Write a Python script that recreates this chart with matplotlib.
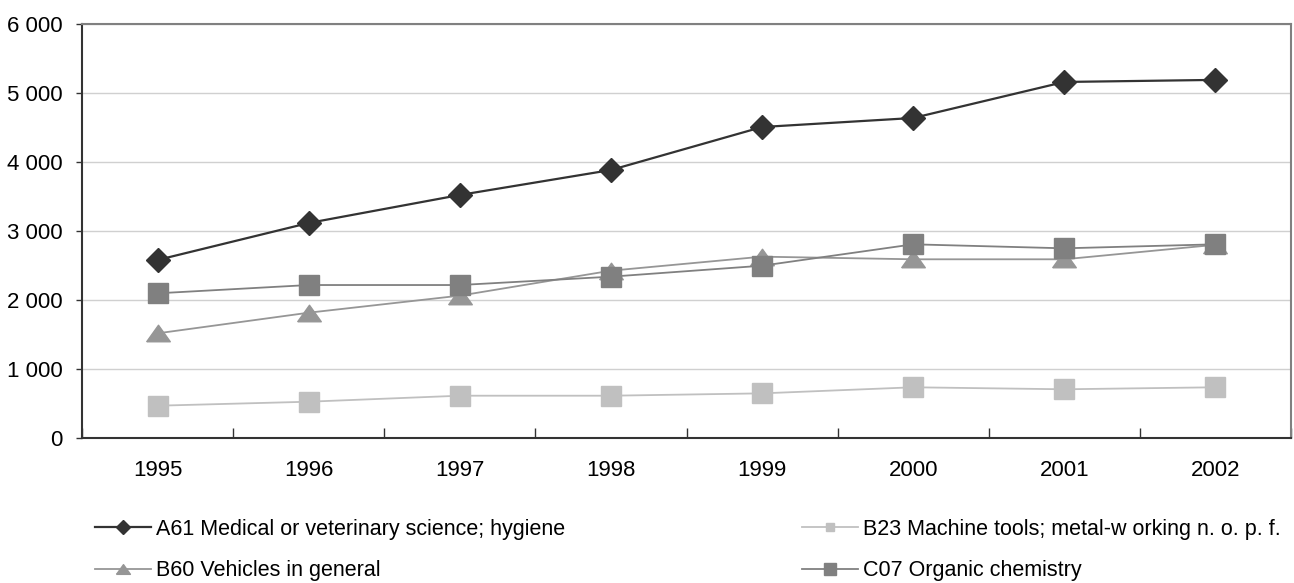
import matplotlib.pyplot as plt
from matplotlib.ticker import FuncFormatter, FixedLocator

plt.rcParams['font.family'] = ['Liberation Sans', 'DejaVu Sans']

years = ["1995", "1996", "1997", "1998", "1999", "2000", "2001", "2002"]

a61 = [2580, 3116, 3522, 3884, 4507, 4638, 5160, 5190]
b23 = [468, 526, 613, 613, 647, 735, 706, 735]
b60 = [1517, 1816, 2063, 2425, 2628, 2590, 2590, 2800]
c07 = [2097, 2217, 2217, 2338, 2497, 2807, 2749, 2807]

labels = {
    "a61": "A61 Medical or veterinary science; hygiene",
    "b23": "B23 Machine tools; metal-w orking n. o. p. f.",
    "b60": "B60 Vehicles in general",
    "c07": "C07 Organic chemistry",
}

# flat triangle like the spreadsheet marker
tri = [(-1, -0.7), (1, -0.7), (0, 0.7), (-1, -0.7)]

fig = plt.figure(figsize=(12.94, 5.83), dpi=100)
ax = fig.add_axes([82 / 1294, 1 - 438 / 583, (1291 - 82) / 1294, (438 - 24) / 583])

x = list(range(len(years)))
l_a61, = ax.plot(x, a61, color="#333333", lw=1.6, marker="D", ms=12, zorder=5)
l_b23, = ax.plot(x, b23, color="#C0C0C0", lw=1.3, marker="s", ms=14, zorder=3)
l_b60, = ax.plot(x, b60, color="#969696", lw=1.3, marker=tri, ms=17, zorder=3)
l_c07, = ax.plot(x, c07, color="#808080", lw=1.3, marker="s", ms=14, zorder=4)

ax.set_xlim(-0.5, len(years) - 0.5)
ax.set_ylim(0, 6000)

# category ticks sit on the boundaries, labels in the middle
ax.xaxis.set_major_locator(FixedLocator([i - 0.5 for i in range(len(years) + 1)]))
ax.xaxis.set_minor_locator(FixedLocator(x))
ax.set_xticklabels([], minor=False)
ax.set_xticklabels(years, minor=True)
ax.tick_params(axis="x", which="major", direction="in", length=7, width=1, color="#333333")
ax.tick_params(axis="x", which="minor", length=0, pad=16, labelsize=16)

ax.set_yticks(range(0, 6001, 1000))
ax.yaxis.set_major_formatter(FuncFormatter(lambda v, p: f"{int(v):,}".replace(",", " ")))
ax.tick_params(axis="y", direction="out", length=4, width=1, color="#333333", pad=10, labelsize=16)

ax.grid(axis="y", color="#D0D0D0", lw=1)
ax.set_axisbelow(True)

for side in ["left", "bottom"]:
    ax.spines[side].set_color("#333333")
    ax.spines[side].set_linewidth(1.5)
for side in ["top", "right"]:
    ax.spines[side].set_color("#808080")
    ax.spines[side].set_linewidth(1.5)

leg = fig.legend([l_a61, l_b60, l_b23, l_c07],
                 [labels["a61"], labels["b60"], labels["b23"], labels["c07"]],
                 ncol=2, loc="upper left", bbox_to_anchor=(95 / 1294, 1 - 519 / 583),
                 frameon=False, fontsize=15.5, borderpad=0, borderaxespad=0,
                 handlelength=2.6, handletextpad=0.23, columnspacing=11.0,
                 labelspacing=0.95)
for h, ms in zip(leg.legend_handles, [7, 10, 6, 9]):
    h.set_markersize(ms)

fig.savefig("out.png", dpi=100)
